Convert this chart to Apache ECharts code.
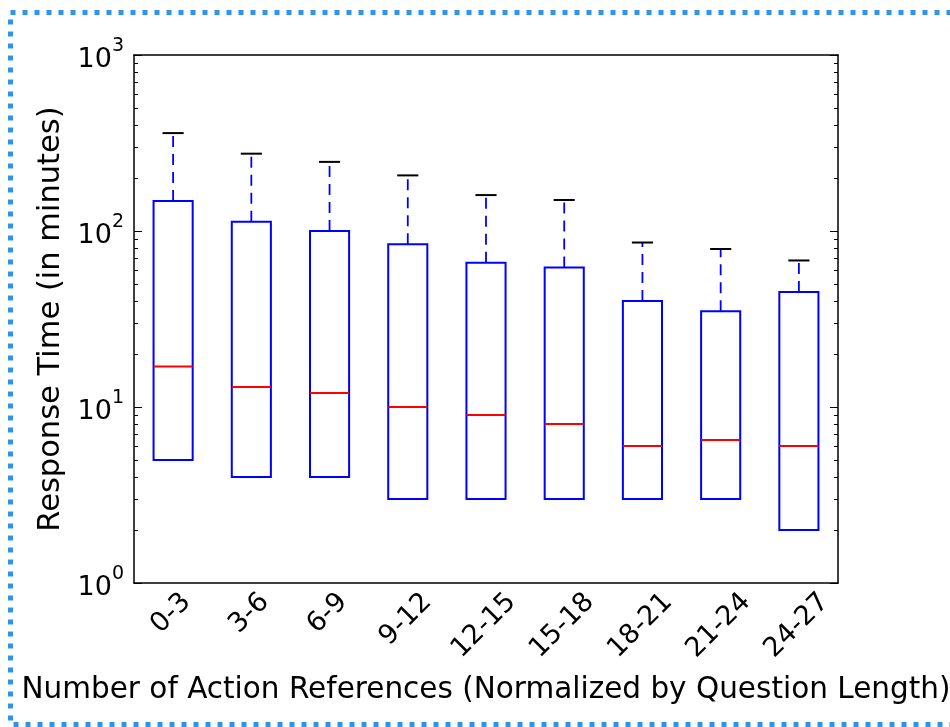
<!DOCTYPE html>
<html>
<head>
<meta charset="utf-8">
<script src="https://cdn.jsdelivr.net/npm/echarts@6/dist/echarts.min.js"></script>
<style>
  html, body { margin: 0; padding: 0; background: #fff; }
  #chart { width: 950px; height: 727px; }
</style>
</head>
<body>
<div id="chart"></div>
<script>
// response time per bucket (minutes)
const categories = ['0-3', '3-6', '6-9', '9-12', '12-15', '15-18', '18-21', '21-24', '24-27']
const whiskerLow = [5, 4, 4, 3, 3, 3, 3, 3, 2]
const q1 = [5, 4, 4, 3, 3, 3, 3, 3, 2]
const median = [17, 13, 12, 10, 9, 8, 6, 6.5, 6]
const q3 = [148, 113, 100, 84, 66, 62, 40, 35, 45]
const whiskerHigh = [360, 275, 247, 207, 160, 150, 86, 79, 68]

const majorTicks = [1, 10, 100, 1000]
const minorTicks = [2, 3, 4, 5, 6, 7, 8, 9, 20, 30, 40, 50, 60, 70, 80, 90, 200, 300, 400, 500, 600, 700, 800, 900]

const FONT = '"DejaVu Sans", "Liberation Sans", sans-serif'
const TICK_FONT_SIZE = 27

const boxData = categories.map((c, i) => [i, whiskerLow[i], q1[i], median[i], q3[i], whiskerHigh[i]])

const measureCtx = document.createElement('canvas').getContext('2d')
measureCtx.font = TICK_FONT_SIZE + 'px ' + FONT

function renderBox(params, api) {
  const i = api.value(0)
  const lo = api.coord([i, api.value(1)])
  const b1 = api.coord([i, api.value(2)])
  const md = api.coord([i, api.value(3)])
  const b3 = api.coord([i, api.value(4)])
  const hi = api.coord([i, api.value(5)])
  const cs = params.coordSys
  const band = cs.width / categories.length
  const half = band * 0.25
  const cap = band * 0.135
  const x = b1[0]
  const blue = '#0000ff'
  const dashed = { stroke: blue, lineWidth: 1.8, lineDash: [11, 7], fill: null }
  const capStyle = { stroke: '#000', lineWidth: 2 }

  // x tick label, rotated 45deg and centred under the tick (matplotlib style)
  const label = categories[i]
  const w = measureCtx.measureText(label).width
  const ly = cs.y + cs.height + 8 + (w + TICK_FONT_SIZE * 0.73) * 0.3536

  return {
    type: 'group',
    children: [
      { type: 'line', shape: { x1: x, y1: b3[1], x2: x, y2: hi[1] }, style: dashed },
      { type: 'line', shape: { x1: x, y1: b1[1], x2: x, y2: lo[1] }, style: dashed },
      { type: 'line', shape: { x1: x - cap, y1: hi[1], x2: x + cap, y2: hi[1] }, style: capStyle },
      { type: 'line', shape: { x1: x - cap, y1: lo[1], x2: x + cap, y2: lo[1] }, style: capStyle },
      {
        type: 'rect',
        shape: { x: x - half, y: b3[1], width: half * 2, height: b1[1] - b3[1] },
        style: { fill: null, stroke: blue, lineWidth: 2 }
      },
      { type: 'line', shape: { x1: x - half, y1: md[1], x2: x + half, y2: md[1] }, style: { stroke: '#ff0000', lineWidth: 2 } },
      {
        type: 'text',
        x: x - 2,
        y: ly,
        rotation: Math.PI / 4,
        style: {
          text: label,
          font: TICK_FONT_SIZE + 'px ' + FONT,
          fill: '#000',
          align: 'center',
          verticalAlign: 'middle'
        }
      }
    ]
  }
}

const logLabel = {
  customValues: majorTicks,
  margin: 10,
  formatter: (v) => '{b|10}{s|' + Math.round(Math.log10(v)) + '}',
  rich: {
    b: { fontSize: 27, fontFamily: FONT, color: '#000', lineHeight: 36, verticalAlign: 'bottom' },
    s: { fontSize: 19, fontFamily: FONT, color: '#000', lineHeight: 36, verticalAlign: 'top' }
  }
}

function yAx(position, ticks, len, withLine, label) {
  return {
    type: 'log',
    logBase: 10,
    min: 1,
    max: 1000,
    position,
    axisLine: { show: withLine, lineStyle: { color: '#000', width: 1.5 } },
    axisTick: { show: true, inside: true, length: len, customValues: ticks, lineStyle: { color: '#000', width: 1 } },
    axisLabel: label || { show: false },
    splitLine: { show: false },
    minorTick: { show: false }
  }
}

const chart = echarts.init(document.getElementById('chart'), null, { renderer: 'canvas' })

const leftMajor = yAx('left', majorTicks, 8, true, logLabel)
leftMajor.name = 'Response Time (in minutes)'
leftMajor.nameLocation = 'middle'
leftMajor.nameRotate = 90
leftMajor.nameGap = 67
leftMajor.nameTextStyle = { fontSize: 30.5, fontFamily: FONT, color: '#000' }

chart.setOption({
  animation: false,
  backgroundColor: '#fff',
  grid: { left: 134, top: 55, width: 704, height: 528, containLabel: false, outerBoundsMode: 'none' },
  graphic: [
    {
      type: 'rect',
      silent: true,
      z: -10,
      shape: { x: 10.5, y: 12.5, width: 950, height: 712 },
      style: { fill: null, stroke: '#2f93ea', lineWidth: 5, lineDash: [5, 7] }
    }
  ],
  xAxis: [
    {
      type: 'category',
      data: categories,
      position: 'bottom',
      boundaryGap: true,
      axisLine: { lineStyle: { color: '#000', width: 1.5 } },
      axisTick: { inside: true, alignWithLabel: true, length: 8, lineStyle: { color: '#000' } },
      axisLabel: { show: false },
      splitLine: { show: false },
      name: 'Number of Action References (Normalized by Question Length)',
      nameLocation: 'middle',
      nameGap: 92,
      nameTextStyle: { fontSize: 29.5, fontFamily: FONT, color: '#000' }
    },
    {
      type: 'category',
      data: categories,
      position: 'top',
      boundaryGap: true,
      axisLine: { lineStyle: { color: '#000', width: 1.5 } },
      axisTick: { inside: true, alignWithLabel: true, length: 8, lineStyle: { color: '#000' } },
      axisLabel: { show: false },
      splitLine: { show: false }
    }
  ],
  yAxis: [
    leftMajor,
    yAx('left', minorTicks, 4, false),
    yAx('right', majorTicks, 8, true),
    yAx('right', minorTicks, 4, false)
  ],
  series: [
    {
      type: 'custom',
      xAxisIndex: 0,
      yAxisIndex: 0,
      clip: false,
      renderItem: renderBox,
      encode: { x: 0, y: [1, 2, 3, 4, 5] },
      data: boxData
    }
  ]
})
</script>
</body>
</html>
